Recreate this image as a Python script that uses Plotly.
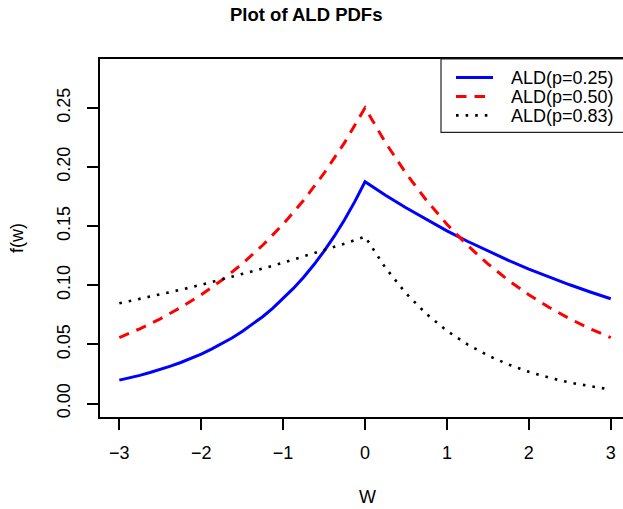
import plotly.graph_objects as go

# ---- data ----
w = [-3.0, -2.75, -2.5, -2.25, -2.0, -1.75, -1.5, -1.25, -1.0, -0.75, -0.5, -0.25, 0.0,
     0.25, 0.5, 0.75, 1.0, 1.25, 1.5, 1.75, 2.0, 2.25, 2.5, 2.75, 3.0]
w_p25 = [-3.0, -2.875, -2.75, -2.625, -2.5, -2.375, -2.25, -2.125, -2.0, -1.875, -1.75, -1.625,
         -1.5, -1.375, -1.25, -1.125, -1.0, -0.875, -0.75, -0.625, -0.5, -0.375, -0.25, -0.125, 0.0,
         0.25, 0.5, 0.75, 1.0, 1.25, 1.5, 1.75, 2.0, 2.25, 2.5, 2.75, 3.0]
f_p25 = [0.0198, 0.0217, 0.0238, 0.0262, 0.0288, 0.0316, 0.0347, 0.0381, 0.0418, 0.0460, 0.0505, 0.0554,
         0.0609, 0.0669, 0.0734, 0.0806, 0.0886, 0.0973, 0.1068, 0.1173, 0.1289, 0.1415, 0.1554, 0.1707, 0.1875,
         0.1761, 0.1655, 0.1554, 0.1460, 0.1372, 0.1289, 0.1211, 0.1137, 0.1068, 0.1004, 0.0943, 0.0886]
f_p50 = [0.0558, 0.0632, 0.0716, 0.0812, 0.0920, 0.1042, 0.1181, 0.1338, 0.1516, 0.1718, 0.1947, 0.2206, 0.2500,
         0.2206, 0.1947, 0.1718, 0.1516, 0.1338, 0.1181, 0.1042, 0.0920, 0.0812, 0.0716, 0.0632, 0.0558]
f_p83 = [0.0847, 0.0884, 0.0922, 0.0962, 0.1004, 0.1048, 0.1093, 0.1141, 0.1190, 0.1242, 0.1296, 0.1352, 0.1411,
         0.1147, 0.0932, 0.0757, 0.0615, 0.0500, 0.0406, 0.0330, 0.0268, 0.0218, 0.0177, 0.0144, 0.0117]
series_names = ["ALD(p=0.25)", "ALD(p=0.50)", "ALD(p=0.83)"]
x_ticks = [-3, -2, -1, 0, 1, 2, 3]
y_ticks = [0.00, 0.05, 0.10, 0.15, 0.20, 0.25]

FONT = "Liberation Sans, Arial, Helvetica, sans-serif"
W_PX, H_PX = 623, 509
L, T, B, R = 100, 58.5, 91.5, 0
plot_w = W_PX - L - R
plot_h = H_PX - T - B

def px_x(p):
    return (p - L) / plot_w

def px_y(p):
    return (H_PX - B - p) / plot_h

styles = [
    dict(color="#0000FF", width=3, dash="solid"),
    dict(color="#FF0000", width=3, dash="10.5px,8px"),
    dict(color="#000000", width=2.6, dash="2.6px,7px"),
]
xs = [w_p25, w, w]
data = [f_p25, f_p50, f_p83]

fig = go.Figure()
for name, xv, ys, st in zip(series_names, xs, data, styles):
    fig.add_trace(go.Scatter(x=xv, y=ys, mode="lines", name=name, line=st, showlegend=False))

fig.update_layout(
    width=W_PX, height=H_PX,
    margin=dict(l=L, r=R, t=T, b=B, pad=0),
    paper_bgcolor="white", plot_bgcolor="white",
    font=dict(family=FONT, size=18, color="black"),
    showlegend=False,
)
fig.update_xaxes(
    range=[-3.236, 3.150], tickvals=x_ticks, ticktext=["\u22123", "\u22122", "\u22121", "0", "1", "2", "3"],
    showgrid=False, zeroline=False, showline=True, linecolor="black", linewidth=1.5, mirror=True,
    ticks="outside", ticklen=11, tickwidth=1.5, tickcolor="black", ticklabelstandoff=8,
    tickfont=dict(size=18, family=FONT),
)
fig.update_yaxes(
    range=[-0.0114, 0.2913], tickvals=y_ticks, tickformat=".2f", tickangle=-90,
    showgrid=False, zeroline=False, showline=True, linecolor="black", linewidth=1.5, mirror=False,
    ticks="outside", ticklen=11, tickwidth=1.5, tickcolor="black", ticklabelstandoff=10,
    tickfont=dict(size=18, family=FONT),
)

# title and axis labels
fig.add_annotation(text="<b>Plot of ALD PDFs</b>", xref="paper", yref="paper",
                   x=px_x(306), y=px_y(14), xanchor="center", yanchor="middle",
                   showarrow=False, font=dict(size=18.5, family=FONT))
fig.add_annotation(text="W", xref="paper", yref="paper", x=px_x(367), y=px_y(498),
                   xanchor="center", yanchor="middle", showarrow=False, font=dict(size=18, family=FONT))
fig.add_annotation(text="f(w)", xref="paper", yref="paper", x=px_x(17), y=px_y(238),
                   xanchor="center", yanchor="middle", textangle=-90, showarrow=False,
                   font=dict(size=18, family=FONT))

# legend box (R-style)
fig.add_shape(type="rect", xref="paper", yref="paper",
              x0=px_x(441), x1=px_x(660), y0=px_y(132), y1=px_y(58.5),
              line=dict(color="#222222", width=1.2), fillcolor="white", layer="above")
rows = [77, 96, 115]
for name, st, ry in zip(series_names, styles, rows):
    fig.add_shape(type="line", xref="paper", yref="paper",
                  x0=px_x(456), x1=px_x(493), y0=px_y(ry), y1=px_y(ry),
                  line=st, layer="above")
    fig.add_annotation(text=name, xref="paper", yref="paper", x=px_x(509), y=px_y(ry + 1),
                       xanchor="left", yanchor="middle", showarrow=False,
                       font=dict(size=18, family=FONT))

fig.write_html("out.html", config={"displayModeBar": False},
               post_script="document.body.style.margin='0px';document.body.style.overflow='hidden';")
